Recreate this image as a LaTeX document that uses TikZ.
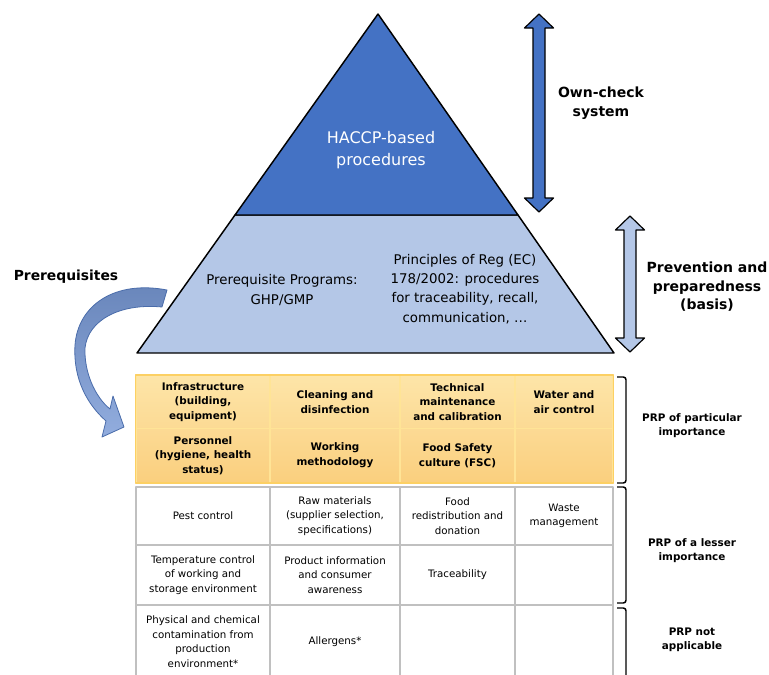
\documentclass[tikz,border=0pt]{standalone}
\usepackage{fontspec}
\setmainfont{DejaVu Sans}
\usetikzlibrary{positioning}
\definecolor{hblue}{RGB}{68,114,196}
\definecolor{lblue}{RGB}{180,199,231}
\definecolor{cblueA}{RGB}{104,133,186}
\definecolor{cblueB}{RGB}{146,173,222}
\definecolor{cbline}{RGB}{74,108,170}
\definecolor{prpA}{RGB}{253,229,168}
\definecolor{prpB}{RGB}{252,218,148}
\definecolor{prpC}{RGB}{250,207,126}
\definecolor{prpline}{RGB}{255,228,150}
\definecolor{prpedge}{RGB}{252,208,100}
\definecolor{gridgray}{RGB}{192,192,192}
\tikzset{
  pyrtext/.style={align=center, inner sep=0pt, font=\fontsize{10}{14.5}\selectfont},
  sidelbl/.style={align=center, inner sep=0pt, font=\fontsize{10.5}{13.8}\selectfont\bfseries},
  prplbl/.style={align=center, inner sep=0pt, font=\fontsize{7.8}{10.5}\selectfont\bfseries},
  prpcell/.style={draw=prpline, line width=0.8pt, inner sep=0pt, align=center, font=\fontsize{7.8}{11}\selectfont\bfseries},
  lesscell/.style={draw=gridgray, line width=1.1pt, fill=white, inner sep=0pt, align=center, font=\fontsize{7.7}{10.9}\selectfont},
  brk/.style={rounded corners=2pt, line width=1.1pt},
  c1/.style={minimum width=100.5pt}, c2/.style={minimum width=97.5pt},
  c3/.style={minimum width=86.25pt}, c4/.style={minimum width=73.5pt},
  r1/.style={minimum height=39.75pt, top color=prpA, bottom color=prpB},
  r2/.style={minimum height=40.5pt, top color=prpB, bottom color=prpC},
  r3/.style={minimum height=43.5pt}, r4/.style={minimum height=45pt},
  r5/.style={minimum height=54.75pt}
}
\begin{document}
\begin{tikzpicture}[x=0.75pt, y=-0.75pt, line join=round]
\clip (0,0) rectangle (769,675);
\useasboundingbox (0,0) rectangle (769,675);
% pyramid
\draw[fill=lblue, line width=1.1pt] (235,215) -- (518,215) -- (614,353) -- (137,353) -- cycle;
\draw[fill=hblue, line width=1.1pt] (378,14) -- (518,215) -- (235,215) -- cycle;
\node[pyrtext, text=white, font=\fontsize{12}{17}\selectfont] (haccp) at (381,150) {HACCP-based\\procedures};
\node[pyrtext] (ghp) at (282,290) {Prerequisite Programs:\\GHP/GMP};
\node[pyrtext] (reg) at (465,289) {Principles of Reg (EC)\\178/2002: procedures\\for traceability, recall,\\communication, …};
% double arrows
\draw[fill=hblue, line width=0.9pt] (533,28) -- (524.5,28) -- (539,14) -- (553.5,28) -- (545,28) -- (545,198) -- (553.5,198) -- (539,212) -- (524.5,198) -- (533,198) -- cycle;
\draw[fill=lblue, line width=0.9pt] (624,230) -- (615.5,230) -- (630,216) -- (644.5,230) -- (636,230) -- (636,338) -- (644.5,338) -- (630,352) -- (615.5,338) -- (624,338) -- cycle;
\node[sidelbl] (owncheck) at (601,103) {Own-check\\system};
\node[sidelbl] (prevent) at (707,287) {Prevention and\\preparedness\\(basis)};
\node[sidelbl, font=\fontsize{10.4}{13}\selectfont\bfseries] (prereq) at (66,277) {Prerequisites};
% curved arrow
\draw[cbline, line width=0.6pt, top color=cblueA, bottom color=cblueB]
  (167,290) .. controls (115,280) and (78,305) .. (75,345)
  .. controls (73,380) and (88,405) .. (106,421)
  -- (102,437) -- (124,427) -- (113,396) -- (110,409)
  .. controls (95,397) and (84,372) .. (85,348)
  .. controls (88,320) and (120,303) .. (162,307) -- cycle;
% PRP of particular importance
\node[prpcell, c1, r1] (infra) at (203,402) {Infrastructure\\(building,\\equipment)};
\node[prpcell, c2, r1] (clean) at (335,402) {Cleaning and\\disinfection};
\node[prpcell, c3, r1] (tech) at (457.5,402) {Technical\\maintenance\\and calibration};
\node[prpcell, c4, r1] (water) at (564,402) {Water and\\air control};
\node[prpcell, c1, r2] (pers) at (203,455.5) {Personnel\\(hygiene, health\\status)};
\node[prpcell, c2, r2] (work) at (335,455.5) {Working\\methodology};
\node[prpcell, c3, r2] (fsc) at (457.5,455.5) {Food Safety\\culture (FSC)};
\node[prpcell, c4, r2] (blankA) at (564,455.5) {};
\draw[prpedge, line width=1pt] (infra.north west) rectangle (blankA.south east);
% PRP of a lesser importance
\node[lesscell, c1, r3] (pest) at (203,516) {Pest control};
\node[lesscell, c2, r3] (raw) at (335,516) {Raw materials\\(supplier selection,\\specifications)};
\node[lesscell, c3, r3] (redis) at (457.5,516) {Food\\redistribution and\\donation};
\node[lesscell, c4, r3] (waste) at (564,516) {Waste\\management};
\node[lesscell, c1, r4] (temp) at (203,575) {Temperature control\\of working and\\storage environment};
\node[lesscell, c2, r4] (prod) at (335,575) {Product information\\and consumer\\awareness};
\node[lesscell, c3, r4] (trace) at (457.5,575) {Traceability};
\node[lesscell, c4, r4] (blankB) at (564,575) {};
% PRP not applicable
\node[lesscell, c1, r5] (phys) at (203,641.5) {Physical and chemical\\contamination from\\production\\environment*};
\node[lesscell, c2, r5] (allerg) at (335,641.5) {Allergens*};
\node[lesscell, c3, r5] (blankC) at (457.5,641.5) {};
\node[lesscell, c4, r5] (blankD) at (564,641.5) {};
% brackets
\draw[brk] (617,377) -- (626,377) -- (626,483) -- (617,483);
\draw[brk] (617,487) -- (626,487) -- (626,603) -- (617,603);
\draw[brk] (617,608) -- (626,608) -- (626,690);
\node[prplbl] (lblA) at (692,426) {PRP of particular\\importance};
\node[prplbl] (lblB) at (692,551) {PRP of a lesser\\importance};
\node[prplbl] (lblC) at (692,640) {PRP not\\applicable};
\end{tikzpicture}
\end{document}
